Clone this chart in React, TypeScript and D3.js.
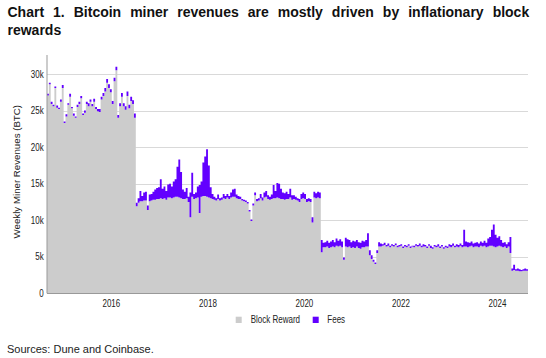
import React from "react";
import * as d3 from "d3";

// Bi-weekly periods starting 2014-09-01 (values in thousands of BTC)
const startDate = new Date(Date.UTC(2014, 8, 1));
const periodDays = 14;

const blockRewardK = [
  27.05, 28.6, 25.9, 25.6, 28.1, 25.4, 25.2, 26.2, 28.1, 23.3,
  24.2, 25.8, 26.9, 25.3, 24.3, 24.0, 25.5, 25.9, 26.7, 24.4,
  24.7, 25.9, 25.6, 26.2, 25.6, 26.2, 25.2, 24.9, 24.8, 26.5,
  27.0, 27.6, 28.8, 28.1, 27.5, 25.9, 29.0, 30.5, 24.0, 25.6,
  26.9, 25.6, 25.1, 27.0, 25.3, 26.3, 25.9, 24.0,
  11.9, 12.4, 12.6, 12.6, 12.7, 12.7, 11.4, 12.6, 12.7, 12.8,
  12.8, 12.9, 12.9, 13.0, 12.9, 13.0, 12.8, 13.1, 13.1, 13.0,
  13.1, 13.2, 13.2, 13.1, 13.0, 12.9, 12.9, 13.0, 12.5, 10.4,
  13.2, 12.9, 13.0, 13.1, 11.0, 13.2, 13.3, 13.3, 13.2, 13.1,
  13.0, 12.9, 12.8, 12.7, 12.9, 12.7, 12.8, 13.0, 12.9, 13.1,
  12.9, 13.1, 13.2, 13.2, 13.0, 12.9, 12.9, 12.7, 12.6, 12.5,
  12.3, 11.2, 9.9, 12.0, 13.4, 12.6, 12.7, 13.0, 12.7, 13.1,
  13.2, 12.9, 12.8, 12.9, 13.0, 13.0, 13.1, 13.0, 12.9, 12.9,
  12.8, 12.9, 12.9, 13.1, 12.8, 12.9, 12.8, 12.7, 12.5, 12.9,
  13.0, 12.9, 12.5, 12.6, 12.5, 9.7, 13.1, 13.0, 13.1, 13.0,
  5.6, 6.3, 6.3, 6.4, 6.2, 6.3, 6.4, 6.3, 6.5, 6.4,
  6.5, 6.3, 4.6, 6.4, 6.3, 6.4, 6.2, 6.3, 6.2, 6.4,
  6.2, 6.1, 6.3, 6.3, 6.4, 6.4, 5.2, 4.7, 4.3, 4.0,
  5.5, 6.4, 6.4, 6.5, 6.6, 6.4, 6.5, 6.3, 6.5, 6.4,
  6.6, 6.3, 6.4, 6.5, 6.2, 6.4, 6.3, 6.5, 6.2, 6.4,
  6.3, 6.5, 6.4, 6.5, 6.3, 6.4, 6.4, 6.2, 6.5, 6.2,
  6.1, 6.4, 6.3, 6.4, 6.2, 6.4, 6.1, 6.3, 6.2, 6.4,
  6.3, 6.5, 6.3, 6.4, 6.3, 6.5, 6.3, 6.4, 6.4, 6.3,
  6.4, 6.5, 6.3, 6.4, 6.4, 6.3, 6.5, 6.4, 6.5, 6.3,
  6.4, 6.5, 6.5, 6.4, 6.3, 6.4, 6.5, 6.4, 6.3, 6.4,
  6.2, 6.4, 5.5, 3.1, 3.2, 3.1, 3.1, 3.0, 3.0, 3.1, 3.1, 3.1,
];

const feesK = [
  0.25, 0.2, 0.3, 0.2, 0.2, 0.3, 0.2, 0.3, 0.4, 0.2,
  0.3, 0.2, 0.4, 0.2, 0.3, 0.2, 0.3, 0.3, 0.3, 0.2,
  0.3, 0.3, 0.4, 0.3, 0.3, 0.4, 0.3, 0.3, 0.4, 0.4,
  0.4, 0.5, 0.5, 0.5, 0.4, 0.4, 0.5, 0.5, 0.4, 0.4,
  0.5, 0.4, 0.5, 0.6, 0.5, 0.6, 0.5, 0.6,
  0.5, 0.6, 1.4, 0.7, 1.1, 1.2, 0.6, 0.9, 0.9, 1.1,
  1.4, 1.5, 1.6, 2.6, 1.4, 1.6, 1.2, 1.8, 1.9, 1.6,
  2.2, 2.4, 4.1, 5.2, 3.6, 1.3, 1.0, 1.4, 0.7, 3.4,
  3.3, 0.7, 0.8, 1.5, 3.8, 2.1, 4.6, 5.4, 6.5, 4.4,
  1.5, 0.7, 0.4, 0.3, 0.6, 0.3, 0.3, 0.6, 0.4, 0.5,
  0.4, 0.7, 1.0, 1.1, 0.5, 0.4, 0.3, 0.2, 0.2, 0.2,
  0.2, 0.2, 0.2, 0.3, 0.4, 0.3, 0.3, 0.6, 0.4, 0.7,
  0.8, 0.5, 0.4, 0.6, 1.8, 1.0, 2.0, 2.0, 1.4, 0.9,
  0.9, 1.0, 0.7, 1.2, 0.6, 0.5, 0.4, 0.3, 0.4, 0.7,
  0.8, 0.7, 0.4, 0.4, 0.4, 0.7, 0.8, 0.7, 0.8, 0.8,
  1.7, 0.6, 0.7, 0.8, 0.7, 0.8, 0.9, 0.7, 1.0, 0.8,
  0.9, 0.8, 0.3, 1.2, 1.1, 0.9, 0.8, 0.9, 0.9, 0.9,
  0.8, 0.8, 0.9, 0.8, 0.9, 1.8, 0.7, 0.5, 0.3, 0.2,
  0.4, 0.6, 0.4, 0.2, 0.3, 0.2, 0.3, 0.2, 0.2, 0.2,
  0.2, 0.2, 0.2, 0.2, 0.2, 0.2, 0.2, 0.2, 0.2, 0.1,
  0.2, 0.2, 0.2, 0.3, 0.2, 0.3, 0.2, 0.2, 0.2, 0.3,
  0.2, 0.2, 0.2, 0.3, 0.2, 0.2, 0.2, 0.2, 0.2, 0.3,
  0.3, 0.3, 0.2, 0.3, 0.3, 0.3, 0.3, 2.3, 0.7, 0.7,
  0.5, 0.6, 0.5, 0.5, 0.6, 0.5, 0.6, 0.5, 0.7, 0.6,
  1.1, 1.2, 2.2, 3.0, 1.7, 1.2, 1.3, 0.9, 0.6, 0.6,
  0.5, 0.6, 2.2, 0.3, 0.7, 0.2, 0.3, 0.3, 0.2, 0.2, 0.3, 0.2,
];

const yTicks = [0, 5, 10, 15, 20, 25, 30];
const xTickYears = [2016, 2018, 2020, 2022, 2024];
const seriesNames = ["Block Reward", "Fees"];
const seriesColors = ["#cccccc", "#6200ff"];

const titleLine1 = "Chart 1. Bitcoin miner revenues are mostly driven by inflationary block";
const titleLine2 = "rewards";
const yAxisLabel = "Weekly Miner Revenues (BTC)";
const sourceText = "Sources: Dune and Coinbase.";

const W = 546;
const H = 358;
const plot = { left: 47, right: 528, top: 55, bottom: 293.3 };
const FONT = "'Liberation Sans', Arial, Helvetica, sans-serif";
const SQ = 0.8; // horizontal squeeze of chart texts

export default function App() {
  const n = blockRewardK.length;
  const data = blockRewardK.map((b, i) => ({
    date: d3.utcDay.offset(startDate, i * periodDays),
    block: b,
    fee: feesK[i],
  }));
  const endDate = d3.utcDay.offset(startDate, n * periodDays);
  const stepData = [...data, { ...data[n - 1], date: endDate }];

  const x = d3.scaleUtc().domain([startDate, endDate]).range([plot.left, plot.right]);
  const y = d3.scaleLinear().domain([0, 32.6]).range([plot.bottom, plot.top]);

  const blockArea = d3
    .area<any>()
    .x((d) => x(d.date))
    .y0(y(0))
    .y1((d) => y(d.block))
    .curve(d3.curveStepAfter);
  const feeArea = d3
    .area<any>()
    .x((d) => x(d.date))
    .y0((d) => y(d.block))
    .y1((d) => y(d.block + d.fee))
    .curve(d3.curveStepAfter);

  const legendX = [235.7, 312.7];
  const legendTextX = [250.7, 327.3];

  return (
    <svg
      width={W}
      height={H}
      style={{ position: "absolute", left: 0, top: 0, background: "#fff" }}
      fontFamily={FONT}
    >
      <rect x={0} y={0} width={W} height={H} fill="#fff" />
      <text x={7.5} y={17} fontSize={14} fontWeight="bold" fill="#111" wordSpacing={5.1}>
        {titleLine1}
      </text>
      <text x={7.5} y={35} fontSize={14} fontWeight="bold" fill="#111">
        {titleLine2}
      </text>

      {yTicks.map((t) => (
        <line
          key={"g" + t}
          x1={plot.left}
          x2={plot.right}
          y1={Math.round(y(t)) + 0.5}
          y2={Math.round(y(t)) + 0.5}
          stroke="#d9d9d9"
          strokeWidth={1}
        />
      ))}

      <path d={blockArea(stepData) || ""} fill={seriesColors[0]} />
      <path d={feeArea(stepData) || ""} fill={seriesColors[1]} />

      <line x1={plot.left} x2={plot.left} y1={plot.top} y2={plot.bottom} stroke="#999" strokeWidth={1} />
      <line x1={plot.left} x2={plot.right} y1={293.5} y2={293.5} stroke="#999" strokeWidth={1} />

      {yTicks.map((t) => (
        <text
          key={"yt" + t}
          transform={`translate(43.7,${y(t) + 3.6}) scale(${SQ},1)`}
          textAnchor="end"
          fontSize={10}
          fill="#222"
        >
          {t === 0 ? "0" : `${t}k`}
        </text>
      ))}

      {xTickYears.map((yr) => (
        <text
          key={"xt" + yr}
          transform={`translate(${x(new Date(Date.UTC(yr, 0, 1)))},306.5) scale(${SQ},1)`}
          textAnchor="middle"
          fontSize={10}
          fill="#222"
        >
          {yr}
        </text>
      ))}

      <text
        transform={`translate(19.6,171.7) scale(0.92,1) rotate(-90)`}
        textAnchor="middle"
        fontSize={9.7}
        fill="#222"
      >
        {yAxisLabel}
      </text>

      {seriesNames.map((name, i) => (
        <g key={name}>
          <rect x={legendX[i]} y={316.7} width={6} height={6.3} fill={seriesColors[i]} />
          <text
            transform={`translate(${legendTextX[i]},323) scale(${SQ},1)`}
            fontSize={10}
            fill="#222"
          >
            {name}
          </text>
        </g>
      ))}

      <text x={7} y={353} fontSize={11} fill="#222">
        {sourceText}
      </text>
    </svg>
  );
}
